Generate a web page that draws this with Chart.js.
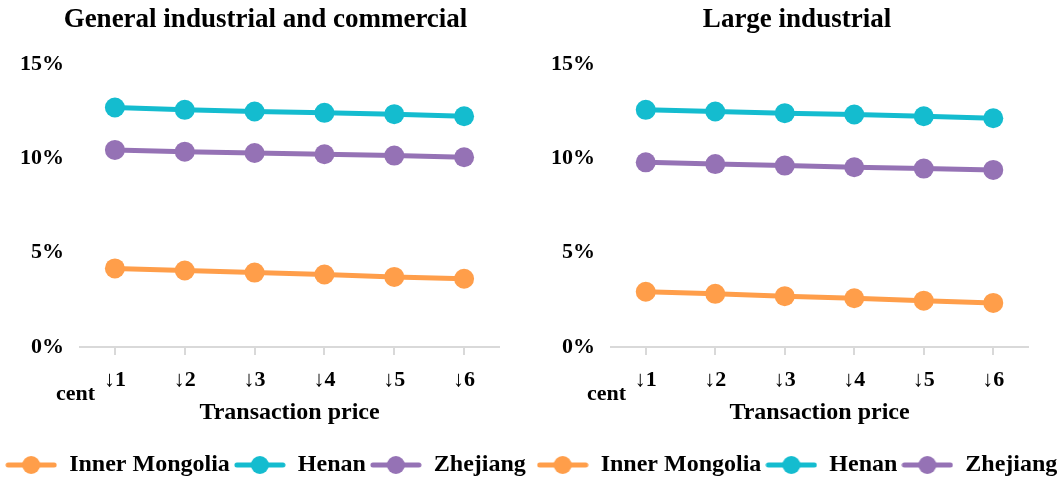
<!DOCTYPE html>
<html>
<head>
<meta charset="utf-8">
<script src="https://cdn.jsdelivr.net/npm/chart.js@4.4.4/dist/chart.umd.min.js"></script>
<style>
    body { margin: 0; background: #fff; }
    .wrap { display: flex; width: 1063px; height: 487px; }
    .panel { position: relative; height: 487px; }
</style>
</head>
<body>
<div class="wrap">
    <div class="panel" style="width:531px"><canvas id="general"></canvas></div>
    <div class="panel" style="width:532px"><canvas id="large"></canvas></div>
</div>
<script>
const priceSteps = ['↓1', '↓2', '↓3', '↓4', '↓5', '↓6'];
const yTicks = [0, 5, 10, 15];
const provinces = ['Inner Mongolia', 'Henan', 'Zhejiang'];

// share of users (%) for each cent of price reduction
const generalInnerMongolia = [4.17, 4.06, 3.95, 3.85, 3.72, 3.62];
const generalHenan = [12.71, 12.59, 12.50, 12.43, 12.36, 12.25];
const generalZhejiang = [10.46, 10.37, 10.30, 10.23, 10.16, 10.07];

const largeInnerMongolia = [2.93, 2.82, 2.70, 2.59, 2.46, 2.34];
const largeHenan = [12.59, 12.50, 12.41, 12.34, 12.25, 12.14];
const largeZhejiang = [9.80, 9.71, 9.63, 9.54, 9.47, 9.40];

const colors = ['#FF9E4A', '#14BCCF', '#9572B5'];
const serif = "'Liberation Serif', 'Times New Roman', serif";

// legend marker: short line with a dot in the middle
function legendMarker(color) {
    const c = document.createElement('canvas');
    c.width = 52;
    c.height = 22;
    const ctx = c.getContext('2d');
    ctx.strokeStyle = color;
    ctx.lineWidth = 5;
    ctx.lineCap = 'round';
    ctx.beginPath();
    ctx.moveTo(3, 11);
    ctx.lineTo(49, 11);
    ctx.stroke();
    ctx.fillStyle = color;
    ctx.beginPath();
    ctx.arc(26, 11, 9, 0, Math.PI * 2);
    ctx.fill();
    return c;
}
const markers = colors.map(legendMarker);

const centLabel = {
    id: 'centLabel',
    afterDraw(chart) {
        const { ctx, chartArea } = chart;
        ctx.save();
        ctx.font = 'bold 22px ' + serif;
        ctx.fillStyle = '#000';
        ctx.textAlign = 'left';
        ctx.textBaseline = 'middle';
        ctx.fillText('cent', chartArea.left - 24, chartArea.bottom + 47);
        ctx.restore();
    }
};

function initChart(canvasId, title, series, rightGap) {
    const datasets = series.map((values, i) => ({
        label: provinces[i],
        data: values,
        borderColor: colors[i],
        backgroundColor: colors[i],
        borderWidth: 5,
        pointRadius: 10,
        pointHoverRadius: 10,
        pointBorderWidth: 0,
        tension: 0
    }));

    return new Chart(document.getElementById(canvasId), {
        type: 'line',
        data: { labels: priceSteps, datasets },
        plugins: [centLabel],
        options: {
            responsive: true,
            maintainAspectRatio: false,
            animation: false,
            layout: { padding: 0 },
            plugins: {
                title: {
                    display: true,
                    text: title,
                    color: '#000',
                    font: { family: serif, size: 27, weight: 'bold' },
                    padding: { top: 4, bottom: 28 }
                },
                legend: {
                    position: 'bottom',
                    labels: {
                        color: '#000',
                        font: { family: serif, size: 24, weight: 'bold' },
                        usePointStyle: true,
                        pointStyleWidth: 52,
                        padding: 4,
                        generateLabels(chart) {
                            return chart.data.datasets.map((ds, i) => ({
                                text: ds.label,
                                pointStyle: markers[i],
                                fillStyle: ds.borderColor,
                                strokeStyle: ds.borderColor,
                                lineWidth: 0,
                                fontColor: '#000',
                                datasetIndex: i
                            }));
                        }
                    }
                },
                tooltip: { enabled: false }
            },
            scales: {
                x: {
                    offset: true,
                    grid: {
                        display: true,
                        drawOnChartArea: false,
                        drawTicks: true,
                        tickLength: 8,
                        color: '#D9D9D9',
                        lineWidth: 2
                    },
                    border: { display: true, color: '#D9D9D9', width: 2 },
                    ticks: {
                        color: '#000',
                        padding: 12,
                        font: { family: serif, size: 22, weight: 'bold' }
                    },
                    title: {
                        display: true,
                        text: 'Transaction price',
                        color: '#000',
                        font: { family: serif, size: 24, weight: 'bold' },
                        padding: { top: 6, bottom: 22 }
                    },
                    afterFit(scale) { scale.height = 102; }
                },
                y: {
                    min: 0,
                    max: 15,
                    afterBuildTicks(scale) {
                        scale.ticks = yTicks.map(v => ({ value: v }));
                    },
                    grid: { display: false, drawTicks: false },
                    border: { display: false },
                    ticks: {
                        color: '#000',
                        padding: 16,
                        font: { family: serif, size: 22, weight: 'bold' },
                        callback: v => v + '%'
                    },
                    afterFit(scale) { scale.width = 80; }
                },
                gap: {
                    position: 'right',
                    display: true,
                    grid: { display: false },
                    border: { display: false },
                    ticks: { display: false },
                    afterFit(scale) { scale.width = rightGap; }
                }
            }
        }
    });
}

initChart('general', 'General industrial and commercial',
    [generalInnerMongolia, generalHenan, generalZhejiang], 32);
initChart('large', 'Large industrial',
    [largeInnerMongolia, largeHenan, largeZhejiang], 35);
</script>
</body>
</html>
